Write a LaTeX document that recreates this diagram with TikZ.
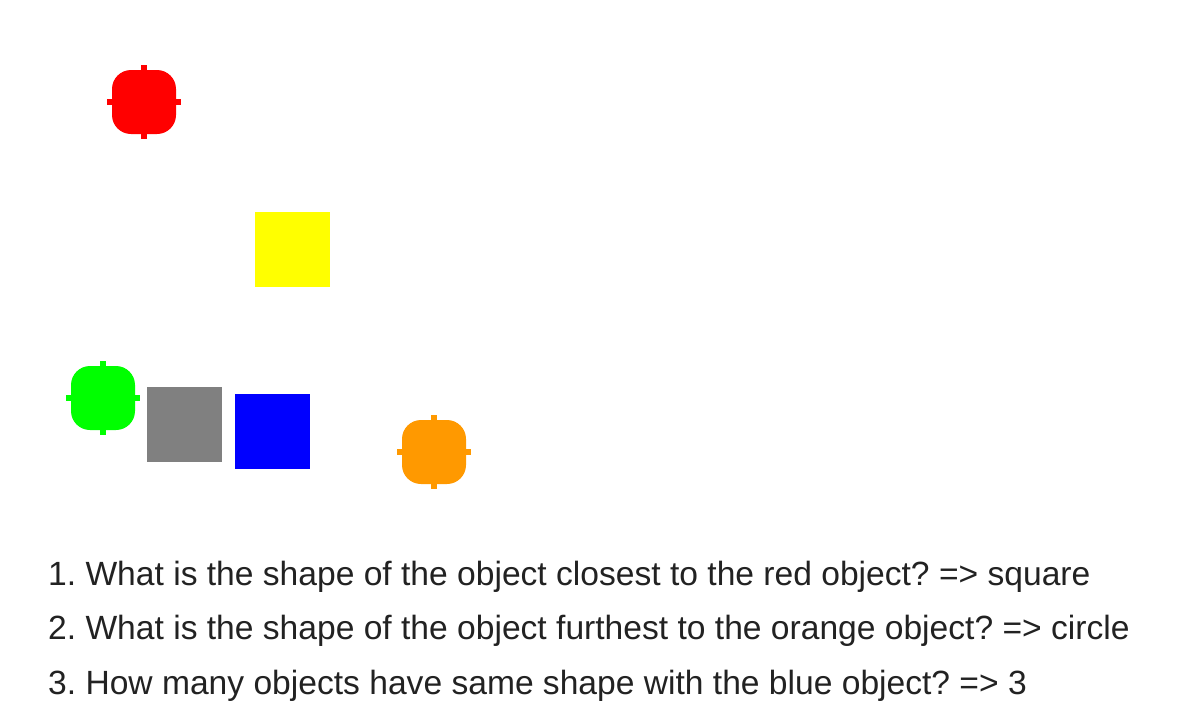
\documentclass[tikz,border=0pt]{standalone}
\usepackage{fontspec}
\setmainfont{Liberation Sans}
\frenchspacing
\definecolor{objred}{HTML}{FF0000}
\definecolor{objyellow}{HTML}{FFFF00}
\definecolor{objgreen}{HTML}{00FF00}
\definecolor{objgray}{HTML}{808080}
\definecolor{objblue}{HTML}{0000FF}
\definecolor{objorange}{HTML}{FF9900}
\definecolor{txt}{HTML}{222222}
\tikzset{
  sqobj/.style={draw=none, minimum size=75pt, inner sep=0pt, rectangle},
  question/.style={anchor=base west, inner sep=0pt, text=txt, font=\fontsize{33.6}{40}\selectfont},
}
\newcommand{\pixcircle}[3]{%
  \fill[#3, rounded corners=19pt] (#1-32,#2-32) rectangle (#1+32,#2+32);
  \fill[#3] (#1-3,#2-37) rectangle (#1+3,#2+37);
  \fill[#3] (#1-37,#2-3) rectangle (#1+37,#2+3);
}
\begin{document}
\begin{tikzpicture}[x=1pt,y=-1pt]
\useasboundingbox (0,0) rectangle (1200,726);
\fill[white] (0,0) rectangle (1200,726);
% circles
\pixcircle{144}{102}{objred}
\pixcircle{103}{398}{objgreen}
\pixcircle{434}{452}{objorange}
% squares
\node[sqobj, fill=objyellow] (yellow) at (292.5,249.5) {};
\node[sqobj, fill=objgray] (gray) at (184.5,424.5) {};
\node[sqobj, fill=objblue] (blue) at (272.5,431) {};
% questions
\node[question] (q1) at (48,585) {1. What is the shape of the object closest to the red object? =\kern0pt> square};
\node[question] (q2) at (48,639) {2. What is the shape of the object furthest to the orange object? =\kern0pt> circle};
\node[question] (q3) at (48,694) {3. How many objects have same shape with the blue object? =\kern0pt> 3};
\end{tikzpicture}
\end{document}
